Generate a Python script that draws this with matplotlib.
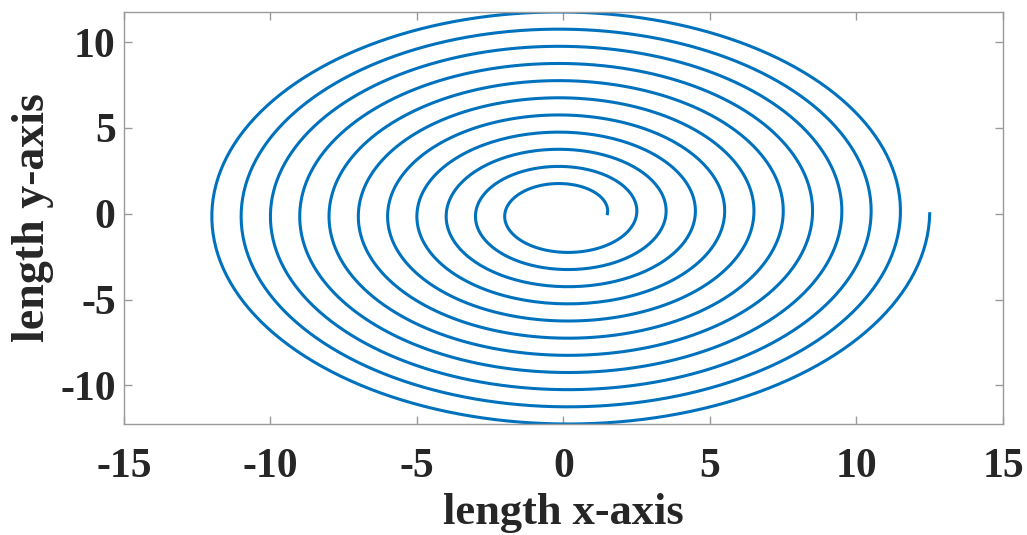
import numpy as np
import matplotlib
matplotlib.use("Agg")
import matplotlib.pyplot as plt

# Archimedean spiral parameters
r_start = 1.5      # radius at the inner end
r_end = 12.5       # radius at the outer end
n_turns = 11       # full counter-clockwise turns
n_points = 2000

x_ticks = [-15, -10, -5, 0, 5, 10, 15]
y_ticks = [-10, -5, 0, 5, 10]
x_label = "length x-axis"
y_label = "length y-axis"

theta = np.linspace(0, 2 * np.pi * n_turns, n_points)
r = r_start + (r_end - r_start) * theta / theta[-1]
x = r * np.cos(theta)
y = r * np.sin(theta)

plt.rcParams["font.family"] = ["Liberation Serif", "DejaVu Serif"]
plt.rcParams["font.weight"] = "bold"
plt.rcParams["axes.unicode_minus"] = False

fig = plt.figure(figsize=(10.27, 5.35), dpi=100)
ax = fig.add_axes([0.1207, 0.2075, 0.8559, 0.7701])
ax.plot(x, y, color="#0072BD", lw=2.2)

ax.set_xlim(-15, 15)
ax.set_ylim(y.min(), y.max())
ax.set_xticks(x_ticks)
ax.set_yticks(y_ticks)
ax.tick_params(direction="in", length=6, width=1.0, color="#9a9a9a",
               top=True, right=True, labelsize=30, labelcolor="#262626")
ax.tick_params(axis="x", pad=17)
ax.tick_params(axis="y", pad=6)
for s in ax.spines.values():
    s.set_color("#9a9a9a")
    s.set_linewidth(1.0)
for lab in ax.get_xticklabels() + ax.get_yticklabels():
    lab.set_fontweight("bold")

ax.set_xlabel(x_label, fontsize=32, fontweight="bold", color="#262626", labelpad=5)
ax.set_ylabel(y_label, fontsize=33, fontweight="bold", color="#262626", labelpad=4)

fig.savefig("out.png", dpi=100)
